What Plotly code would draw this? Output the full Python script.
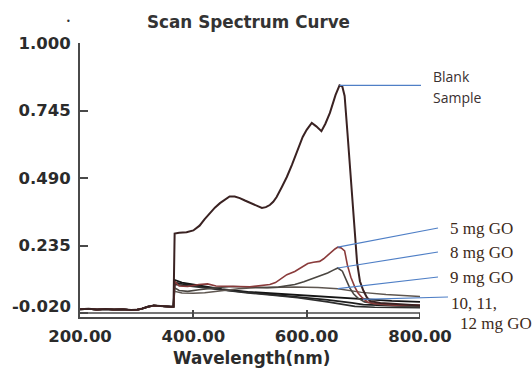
import numpy as np
import plotly.graph_objects as go

# ---------------- data ----------------
BASE_NM = [200, 215, 230, 245, 260, 275, 290, 300, 310, 320, 330, 340, 350, 360, 365]
BASE_VAL = [-0.006, -0.004, -0.007, -0.005, -0.007, -0.006, -0.009, -0.008, -0.003, 0.004,
            0.008, 0.006, 0.005, 0.004, 0.004]

BLANK_NM = [367, 375, 388, 400, 411, 420, 429, 438, 447, 456, 464, 473, 482, 491, 500, 510,
            521, 528, 535, 541, 547, 556, 565, 574, 582, 593, 600, 609, 617, 626, 633, 641,
            651, 658, 663, 667, 672, 677, 681, 685, 689, 694, 700, 706, 712, 730, 760, 800]
BLANK_VAL = [0.280, 0.283, 0.285, 0.292, 0.310, 0.335, 0.358, 0.378, 0.395, 0.410, 0.420,
             0.420, 0.414, 0.405, 0.396, 0.385, 0.377, 0.380, 0.388, 0.400, 0.418, 0.455,
             0.494, 0.540, 0.584, 0.645, 0.672, 0.698, 0.685, 0.667, 0.695, 0.736, 0.804,
             0.840, 0.835, 0.800, 0.660, 0.520, 0.420, 0.280, 0.170, 0.100, 0.065, 0.040,
             0.025, 0.018, 0.013, 0.008]

MG5_NM = [367, 375, 390, 410, 425, 440, 460, 480, 500, 520, 535, 545, 555, 565, 579, 590,
          602, 612, 623, 630, 637, 645, 650, 655, 661, 667, 672, 678, 685, 691, 697, 707,
          720, 755, 800]
MG5_VAL = [0.100, 0.082, 0.080, 0.088, 0.090, 0.082, 0.080, 0.080, 0.079, 0.083, 0.088,
           0.095, 0.110, 0.125, 0.137, 0.152, 0.167, 0.172, 0.175, 0.185, 0.199, 0.212,
           0.222, 0.229, 0.226, 0.215, 0.160, 0.115, 0.078, 0.055, 0.040, 0.022, 0.015,
           0.010, 0.010]

MG8_NM = [367, 375, 390, 410, 430, 450, 470, 490, 510, 530, 550, 565, 579, 595, 614, 625,
          637, 647, 655, 663, 670, 676, 683, 690, 702, 730, 770, 800]
MG8_VAL = [0.075, 0.065, 0.062, 0.068, 0.074, 0.078, 0.080, 0.078, 0.076, 0.076, 0.078,
           0.082, 0.088, 0.098, 0.112, 0.120, 0.131, 0.142, 0.150, 0.138, 0.105, 0.075,
           0.052, 0.037, 0.022, 0.012, 0.006, 0.004]

MG9_NM = [367, 380, 400, 420, 440, 460, 480, 500, 530, 560, 580, 620, 655, 697, 740, 800]
MG9_VAL = [0.062, 0.056, 0.055, 0.057, 0.062, 0.068, 0.072, 0.075, 0.077, 0.078, 0.078,
           0.076, 0.072, 0.058, 0.050, 0.042]

MG10_NM = [367, 380, 400, 420, 450, 496, 540, 584, 637, 697, 750, 800]
MG10_VAL = [0.105, 0.095, 0.088, 0.080, 0.070, 0.060, 0.054, 0.048, 0.040, 0.032, 0.026, 0.022]

MG11_NM = [367, 380, 400, 420, 450, 496, 540, 584, 637, 680, 700, 750, 800]
MG11_VAL = [0.095, 0.090, 0.083, 0.077, 0.068, 0.058, 0.050, 0.042, 0.030, 0.018, 0.012,
            0.008, 0.006]

MG12_NM = [367, 380, 400, 420, 450, 496, 540, 584, 637, 685, 720, 800]
MG12_VAL = [0.088, 0.085, 0.080, 0.074, 0.066, 0.056, 0.047, 0.038, 0.022, 0.005, 0.002, 0.000]

Y_TICKS = [-0.020, 0.235, 0.490, 0.745, 1.000]
Y_TICK_TEXT = ["-0.020", "0.235", "0.490", "0.745", "1.000"]
X_TICKS = [200, 400, 600, 800]
X_TICK_TEXT = ["200.00", "400.00", "600.00", "800.00"]

X_MIN, X_MAX = 200, 800
Y_MIN, Y_MAX = -0.035, 1.0

# ---------------- figure ----------------
W, H = 532, 370
ML, MR, MT, MB = 80, 112, 43, 53
PW, PH = W - ML - MR, H - MT - MB

series = [
    ("10 mg GO", MG10_NM, MG10_VAL, "#141414", 1.8),
    ("11 mg GO", MG11_NM, MG11_VAL, "#1e1e1e", 1.8),
    ("12 mg GO", MG12_NM, MG12_VAL, "#2e2e2e", 1.6),
    ("9 mg GO", MG9_NM, MG9_VAL, "#5e5650", 1.5),
    ("8 mg GO", MG8_NM, MG8_VAL, "#4a4641", 1.6),
    ("5 mg GO", MG5_NM, MG5_VAL, "#8a3b3b", 1.6),
    ("Blank Sample", BLANK_NM, BLANK_VAL, "#3a2222", 2.0),
]

fig = go.Figure()
curves = {}
for name, nm, val, col, w in series:
    xs = BASE_NM + nm
    ys = BASE_VAL + val
    curves[name] = (xs, ys)
    fig.add_trace(go.Scatter(x=xs, y=ys, mode="lines", name=name,
                             line=dict(color=col, width=w), showlegend=False))


def px_x(px):
    return (px - ML) / PW


def px_y(py):
    return (H - MB - py) / PH


def data_to_paper(x, y):
    return (x - X_MIN) / (X_MAX - X_MIN), (y - Y_MIN) / (Y_MAX - Y_MIN)


shapes = []
# double bottom line of the x-axis frame
shapes.append(dict(type="line", xref="x", yref="y", x0=X_MIN, x1=X_MAX, y0=-0.020, y1=-0.020,
                   line=dict(color="#4a4a4a", width=1.5)))
shapes.append(dict(type="line", xref="x", yref="paper", x0=X_MAX, x1=X_MAX, y0=0, y1=px_y(313),
                   line=dict(color="#4a4a4a", width=2)))

# leader lines (start on curves, end next to labels)
leaders = [
    ("Blank Sample", 658, (421, 87)),
    ("5 mg GO", 655, (438, 228)),
    ("8 mg GO", 655, (438, 252)),
    ("9 mg GO", 655, (438, 277)),
    ("10 mg GO", 699, (448, 297)),
]
for name, nm, (ex, ey) in leaders:
    xs, ys = curves[name]
    yv = float(np.interp(nm, xs, ys))
    x0, y0 = data_to_paper(nm, yv)
    x1, y1 = px_x(ex), px_y(ey)
    if name == "Blank Sample":
        y1 = y0
    shapes.append(dict(type="line", xref="paper", yref="paper", x0=x0, y0=y0, x1=x1, y1=y1,
                       line=dict(color="#4f7fc6", width=1.2)))

annotations = []
serif = dict(family="Liberation Serif", size=17, color="#3d2a1a")
for txt, (lx, ly) in [("5 mg GO", (448, 228)), ("8 mg GO", (448, 252)), ("9 mg GO", (448, 277)),
                      ("10, 11,", (449, 303)), ("12 mg GO", (458, 323))]:
    annotations.append(dict(text=txt, xref="paper", yref="paper", x=px_x(lx), y=px_y(ly),
                            xanchor="left", yanchor="middle", showarrow=False, font=serif))
sans = dict(family="Open Sans", size=14, color="#3a3030")
for txt, (lx, ly) in [("Blank", (431, 77)), ("Sample", (431, 97))]:
    annotations.append(dict(text=txt, xref="paper", yref="paper", x=px_x(lx), y=px_y(ly),
                            xanchor="left", yanchor="middle", showarrow=False, font=sans))

bold = dict(family="DejaVu Sans", size=16.5, color="#2b2b2b", weight="bold")
annotations.append(dict(text="-0.020", xref="paper", yref="paper", x=px_x(73), y=px_y(306),
                        xanchor="right", yanchor="middle", showarrow=False, font=bold))
annotations.append(dict(text="Wavelength(nm)", xref="paper", yref="paper", x=px_x(251),
                        y=px_y(358), xanchor="center", yanchor="middle", showarrow=False,
                        font=dict(family="DejaVu Sans", size=16.8, color="#2b2b2b", weight="bold")))
annotations.append(dict(text="Scan Spectrum Curve", xref="paper", yref="paper", x=px_x(248),
                        y=px_y(22), xanchor="center", yanchor="middle", showarrow=False,
                        font=dict(family="DejaVu Sans", size=16.8, color="#333333", weight="bold")))
annotations.append(dict(text="•", xref="paper", yref="paper", x=px_x(68), y=px_y(22),
                        xanchor="center", yanchor="middle", showarrow=False,
                        font=dict(family="DejaVu Sans", size=8, color="#333333")))

fig.update_layout(
    width=W, height=H,
    margin=dict(l=ML, r=MR, t=MT, b=MB, pad=0),
    paper_bgcolor="white", plot_bgcolor="white",
    shapes=shapes, annotations=annotations,
    xaxis=dict(range=[X_MIN, X_MAX], tickvals=X_TICKS, ticktext=X_TICK_TEXT,
               showgrid=False, zeroline=False, showline=True, linecolor="#4a4a4a",
               linewidth=1.5, ticks="inside", ticklen=7, tickwidth=1.5, tickcolor="#4a4a4a",
               tickfont=bold, ticklabelstandoff=3),
    yaxis=dict(range=[Y_MIN, Y_MAX], tickvals=Y_TICKS, ticktext=["", "0.235", "0.490", "0.745", "1.000"],
               showgrid=False, zeroline=False, showline=True, linecolor="#4a4a4a",
               linewidth=2, ticks="inside", ticklen=8, tickwidth=1.5, tickcolor="#4a4a4a",
               tickfont=bold, ticklabelstandoff=4),
)

fig.write_html("out.html")
